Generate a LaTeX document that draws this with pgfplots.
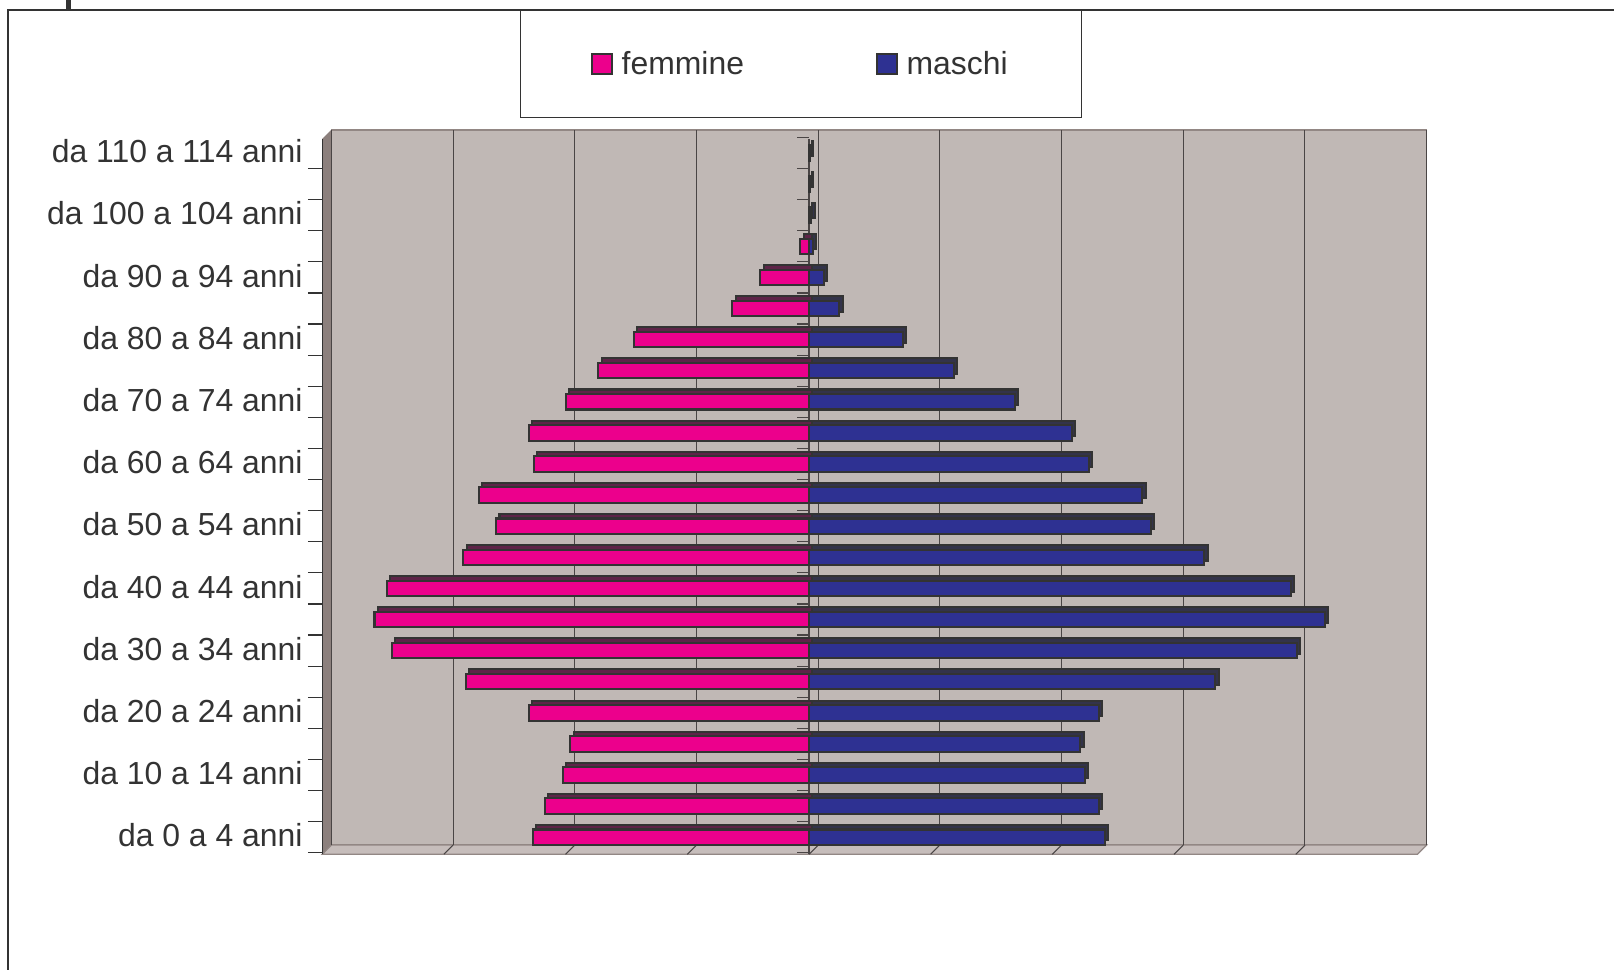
\documentclass[border=0pt]{standalone}
\usepackage{pgfplots}
\pgfplotsset{compat=1.18}
\usepackage{pgfplotstable}
\usepackage{fontspec}
\setmainfont{Liberation Sans}
\definecolor{fem}{HTML}{EC008C}
\definecolor{mas}{HTML}{2E3192}
\definecolor{femdark}{HTML}{5E2448}
\definecolor{masdark}{HTML}{33334A}
\definecolor{wall}{HTML}{C0B8B5}
\definecolor{lwall}{HTML}{8C807D}
\definecolor{floorc}{HTML}{C6BDBB}
\definecolor{wedge}{HTML}{928784}
\definecolor{edge}{HTML}{333333}
\definecolor{txt}{HTML}{333333}
\definecolor{gridc}{HTML}{4A4545}

\pgfplotstableread{
row f m
0 -227 243
1 -217 238
2 -202 227
3 -196 223
4 -230 238
5 -282 334
6 -343 401
7 -357 424
8 -347 396
9 -284 325
10 -257 281
11 -271 274
12 -226 230
13 -230 216
14 -200 169
15 -173 119
16 -144 77
17 -63 25
18 -40 12
19 -7 3
20 0 2
21 0 1
22 0 1
}\pop

\begin{document}
\begin{tikzpicture}
\path (0,0) rectangle (784pt,471pt);
\draw[edge, line width=1pt] (4pt,0pt) -- (4pt,466pt) -- (784pt,466pt);
\fill[edge] (32pt,466pt) rectangle (34.5pt,471pt);
\begin{axis}[
  at={(156.5pt,56pt)}, anchor=south west,
  scale only axis, width=532pt, height=347.5pt,
  set layers, clip=false,
  xmin=-400, xmax=500, ymin=-0.55, ymax=22.45,
  axis y line*=left, axis x line*=bottom,
  x axis line style={draw=none},
  y axis line style={draw=edge, line width=0.6pt},
  xtick={-400,-300,...,500}, xticklabels=\empty,
  x tick style={draw=none},
  xmajorgrids,
  major x grid style={draw=gridc, line width=0.5pt, xshift=4.5pt, yshift=4.5pt},
  ytick={0,2,...,22},
  yticklabels={da 0 a 4 anni, da 10 a 14 anni, da 20 a 24 anni, da 30 a 34 anni, da 40 a 44 anni, da 50 a 54 anni, da 60 a 64 anni, da 70 a 74 anni, da 80 a 84 anni, da 90 a 94 anni, da 100 a 104 anni, da 110 a 114 anni},
  minor ytick={-0.5,0.5,...,22.5},
  tick align=outside,
  major tick length=0pt, minor tick length=7pt,
  y tick style={draw=edge, line width=0.6pt},
  yticklabel style={font=\fontsize{15.5}{18}\selectfont, text=txt, xshift=-6pt, yshift=0.8pt},
  xbar, bar width=7.5pt, bar shift=0pt,
  legend columns=2,
  legend style={at={(0.4375,1.18)}, anchor=north, draw=edge, line width=0.6pt,
    font=\fontsize{15.5}{18}\selectfont, text=txt,
    inner xsep=34pt, inner ysep=17.5pt,
    /tikz/every odd column/.append style={column sep=2pt},
    /tikz/every even column/.append style={column sep=62pt}},
  sqlegend/.style={legend image code/.code={\draw[##1, draw=edge, line width=1pt] (0pt,-5pt) rectangle (10pt,5pt);}},
]
\begin{pgfonlayer}{axis background}
  \fill[wall, draw=wedge, line width=0.8pt, shift={(4.5pt,4.5pt)}] (rel axis cs:0,0) rectangle (rel axis cs:1,1);
  \fill[lwall] (rel axis cs:0,0) -- (rel axis cs:0,1) -- ([shift={(4.5pt,4.5pt)}]rel axis cs:0,1) -- ([shift={(4.5pt,4.5pt)}]rel axis cs:0,0) -- cycle;
  \fill[floorc, draw=wedge, line width=0.6pt] (rel axis cs:0,0) -- (rel axis cs:1,0) -- ([shift={(4.5pt,4.5pt)}]rel axis cs:1,0) -- ([shift={(4.5pt,4.5pt)}]rel axis cs:0,0) -- cycle;
\end{pgfonlayer}
\begin{pgfonlayer}{axis grid}
  \pgfplotsinvokeforeach{-300,-200,-100,0,100,200,300,400}{
    \draw[gridc, line width=0.5pt] (axis cs:#1,-0.55) -- ++(4.5pt,4.5pt);
  }
\end{pgfonlayer}
\begin{pgfonlayer}{pre main}
  \draw[gridc, line width=0.6pt] (axis cs:0,-0.55) -- (axis cs:0,22.45);
  \pgfplotsinvokeforeach{-0.5,0.5,1.5,2.5,3.5,4.5,5.5,6.5,7.5,8.5,9.5,10.5,11.5,12.5,13.5,14.5,15.5,16.5,17.5,18.5,19.5,20.5,21.5,22.5}{
    \draw[gridc, line width=0.6pt] (axis cs:0,#1) -- ++(-6pt,0pt);
  }
\end{pgfonlayer}
% depth (top and side faces)
\addplot[forget plot, fill=femdark, draw=edge, line width=1pt, xshift=1.6pt, yshift=2.2pt] table[x=f, y=row] {\pop};
\addplot[forget plot, fill=masdark, draw=edge, line width=1pt, xshift=1.6pt, yshift=2.2pt] table[x=m, y=row] {\pop};
% front faces
\addplot[fill=fem, draw=edge, line width=1pt, sqlegend] table[x=f, y=row] {\pop};
\addlegendentry{femmine}
\addplot[fill=mas, draw=edge, line width=1pt, sqlegend] table[x=m, y=row] {\pop};
\addlegendentry{maschi}
\end{axis}
\end{tikzpicture}
\end{document}
